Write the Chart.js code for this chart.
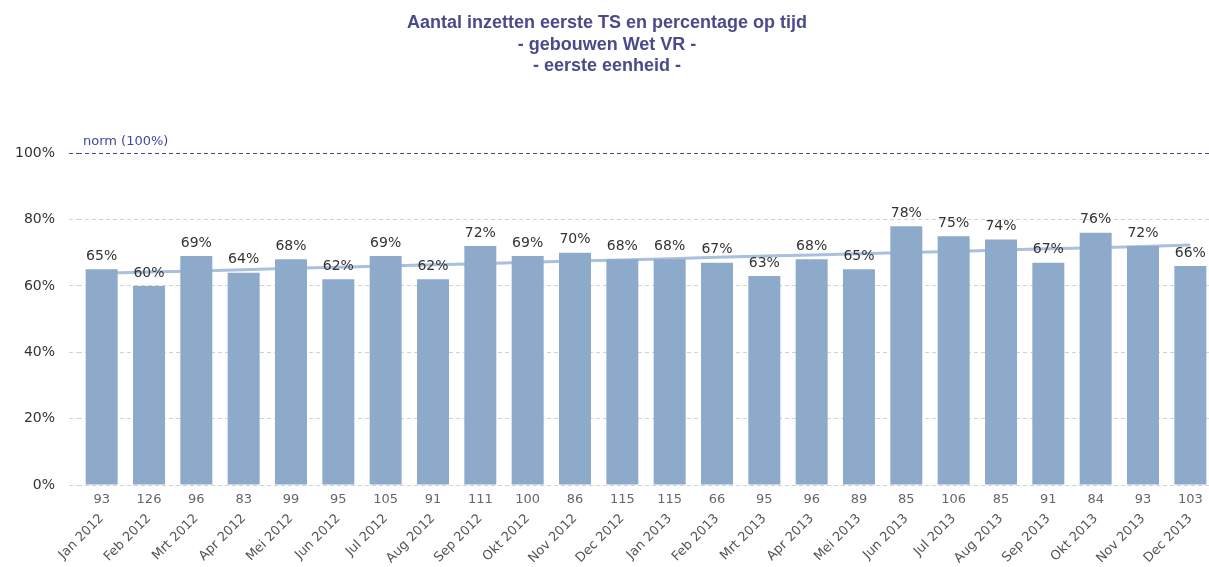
<!DOCTYPE html>
<html>
<head>
<meta charset="utf-8">
<script src="https://cdn.jsdelivr.net/npm/chart.js@4/dist/chart.umd.min.js"></script>
<style>
  html, body { margin: 0; padding: 0; background: #fff; overflow: hidden; }
  #wrap { width: 1222px; height: 567px; }
</style>
</head>
<body>
<div id="wrap"><canvas id="plot"></canvas></div>
<script>
const months = ['Jan 2012', 'Feb 2012', 'Mrt 2012', 'Apr 2012', 'Mei 2012', 'Jun 2012', 'Jul 2012', 'Aug 2012',
    'Sep 2012', 'Okt 2012', 'Nov 2012', 'Dec 2012', 'Jan 2013', 'Feb 2013', 'Mrt 2013', 'Apr 2013',
    'Mei 2013', 'Jun 2013', 'Jul 2013', 'Aug 2013', 'Sep 2013', 'Okt 2013', 'Nov 2013', 'Dec 2013'];
const counts = [93, 126, 96, 83, 99, 95, 105, 91, 111, 100, 86, 115, 115, 66, 95, 96, 89, 85, 106, 85, 91, 84, 93, 103];
const onTime = [65, 60, 69, 64, 68, 62, 69, 62, 72, 69, 70, 68, 68, 67, 63, 68, 65, 78, 75, 74, 67, 76, 72, 66];
const trend = [63.8, 64.2, 64.5, 64.9, 65.3, 65.6, 66.0, 66.4, 66.7, 67.1, 67.5, 67.8,
    68.2, 68.6, 69.0, 69.3, 69.7, 70.1, 70.4, 70.8, 71.2, 71.5, 71.9, 72.3];
const norm = 100;
const titleLines = ['Aantal inzetten eerste TS en percentage op tijd', '- gebouwen Wet VR -', '- eerste eenheid -'];

const FONT = "'DejaVu Sans', sans-serif";
const NAVY = '#4646a0';
const GRID = '#d2d2d2';

// percentages above bars + norm label
const labelPlugin = {
    id: 'barLabels',
    afterDatasetsDraw(chart) {
        const ctx = chart.ctx;
        const meta = chart.getDatasetMeta(0);
        ctx.save();
        ctx.font = '14px ' + FONT;
        ctx.fillStyle = '#333';
        ctx.textAlign = 'center';
        ctx.textBaseline = 'middle';
        meta.data.forEach((bar, i) => {
            ctx.fillText(onTime[i] + '%', bar.x, bar.y - 13);
        });

        const yNorm = chart.scales.y.getPixelForValue(norm);
        ctx.font = '13px ' + FONT;
        ctx.fillStyle = NAVY;
        ctx.textAlign = 'left';
        ctx.fillText('norm (' + norm + '%)', 83, yNorm - 12);
        ctx.restore();
    }
};

const ctx = document.getElementById('plot').getContext('2d');
new Chart(ctx, {
    data: {
        labels: months,
        datasets: [{
            type: 'bar',
            label: 'op tijd',
            data: onTime,
            backgroundColor: '#8eaacb',
            barPercentage: 0.676,
            categoryPercentage: 1,
            order: 0
        }, {
            type: 'line',
            label: 'trend',
            data: trend,
            borderColor: '#a9c0de',
            borderWidth: 3,
            pointRadius: 0,
            tension: 0,
            order: 1
        }]
    },
    options: {
        responsive: true,
        maintainAspectRatio: false,
        animation: false,
        layout: { padding: { left: 0, right: 8, top: 0, bottom: 0 } },
        scales: {
            y: {
                min: 0,
                max: 100,
                ticks: {
                    stepSize: 20,
                    padding: 14,
                    color: '#333',
                    font: { family: FONT, size: 14 },
                    callback: v => v + '%'
                },
                grid: {
                    color: c => c.tick && c.tick.value === norm ? NAVY : GRID,
                    tickColor: c => c.tick && c.tick.value === norm ? NAVY : GRID,
                    tickLength: 9,
                    tickBorderDash: [4, 3]
                },
                border: { display: false, dash: [4, 3] },
                afterFit(scale) { scale.width = 78; }
            },
            xCount: {
                type: 'category',
                labels: counts.map(String),
                position: 'bottom',
                weight: 1,
                offset: true,
                grid: { display: false, drawTicks: false },
                border: { display: false },
                ticks: {
                    padding: 7,
                    color: '#666',
                    autoSkip: false,
                    maxRotation: 0,
                    font: { family: FONT, size: 13 }
                },
                afterFit(scale) { scale.height = 22; }
            },
            x: {
                type: 'category',
                position: 'bottom',
                weight: 2,
                offset: true,
                grid: { display: false, drawTicks: false },
                border: { display: false },
                ticks: {
                    padding: 4,
                    color: '#555',
                    autoSkip: false,
                    minRotation: 45,
                    maxRotation: 45,
                    font: { family: FONT, size: 13 }
                },
                afterFit(scale) { scale.height = 60; }
            }
        },
        plugins: {
            legend: { display: false },
            tooltip: { enabled: false },
            title: {
                display: true,
                text: titleLines,
                color: '#4a4a8c',
                font: { family: "'Liberation Sans', Arial, sans-serif", size: 18, weight: 'bold', lineHeight: 1.17 },
                padding: { top: 13, bottom: 77 }
            }
        }
    },
    plugins: [labelPlugin]
});
</script>
</body>
</html>
